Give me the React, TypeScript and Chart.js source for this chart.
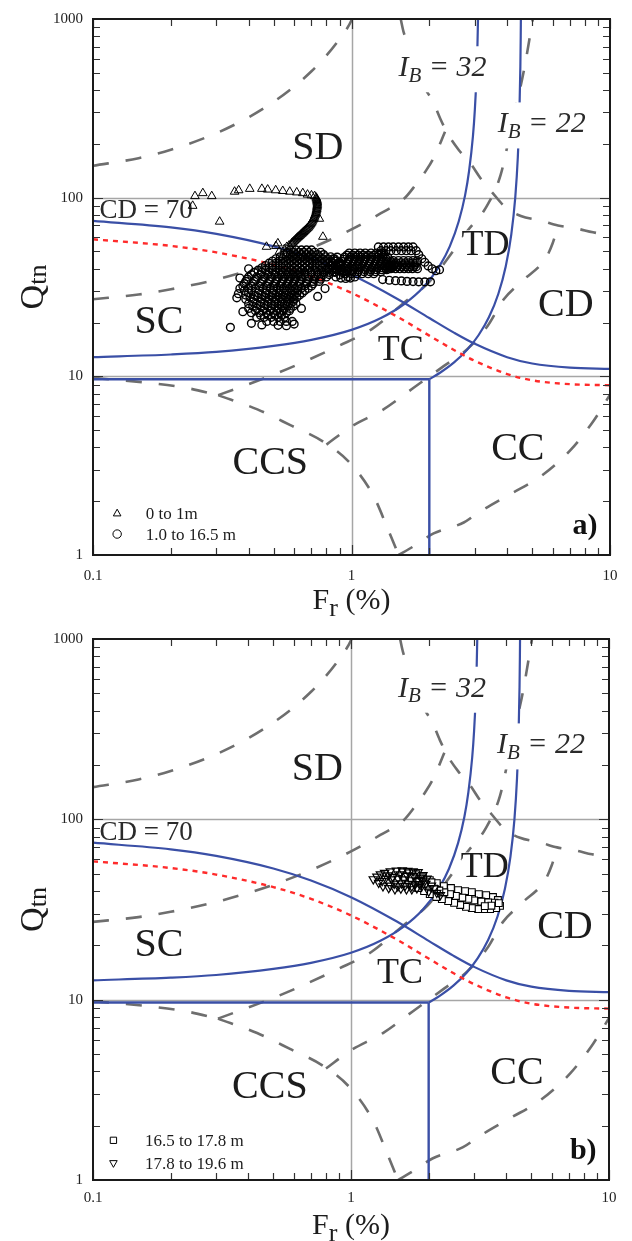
import React, { useEffect, useRef } from "react";
import { Chart, registerables } from "chart.js";

Chart.register(...registerables);

const FONT = "'Liberation Serif', 'Times New Roman', Times, serif";

// ---------------- axis ticks ----------------
const gridFr = [1];
const gridQ = [10, 100];
const frDecades = [0.1, 1];
const qDecades = [1, 10, 100];

// ---------------- boundary curves (Fr %, Qtn) ----------------
const cd70Fr = [0.1, 0.2, 0.3, 0.5, 0.7, 1.0, 1.5, 2.0, 2.5, 3.0, 4.0, 5.0, 7.0, 10];
const cd70Q = [74.2, 68.2, 62.7, 53.4, 45.8, 37.0, 27.2, 21.2, 17.5, 15.2, 12.8, 11.8, 11.18, 11.02];
const redFr = [0.1, 0.2, 0.3, 0.5, 0.7, 1.0, 1.5, 2.0, 2.5, 3.0, 4.0, 5.0, 7.0, 10];
const redQ = [58.5, 53.7, 49.4, 42.1, 36.2, 29.3, 21.6, 16.9, 14.0, 12.2, 10.3, 9.5, 9.04, 8.92];
const ib32Fr = [0.1, 0.2, 0.3, 0.5, 0.7, 1.0, 1.3, 1.6, 1.9, 2.2, 2.4, 2.6, 2.75, 2.85, 2.95, 3.0, 3.04, 3.07, 3.086];
const ib32Q = [12.8, 13.25, 13.7, 14.8, 16.0, 18.2, 21.2, 25.4, 31.6, 41.9, 53.4, 73.8, 103, 141, 221, 310, 456, 705, 1000];
const ib22Fr = [2.0, 2.2, 2.5, 2.8, 3.1, 3.4, 3.7, 3.95, 4.15, 4.3, 4.4, 4.46, 4.5, 4.515, 4.521];
const ib22Q = [9.64, 10.47, 12.0, 14.06, 16.98, 21.4, 29.0, 41.2, 62.1, 100, 168.8, 287, 540, 806, 1000];
const floorFr = [0.1, 2.0];
const floorQ = [9.64, 9.64];
const wallFr = [2.0, 2.0];
const wallQ = [9.64, 1];

// grey dashed zone boundaries
const zoneAFr = [0.1, 0.15, 0.2, 0.3, 0.4, 0.5, 0.6, 0.7, 0.8, 0.9, 1.0, 1.004];
const zoneAQ = [150.9, 166.4, 185.3, 229.6, 281.8, 344, 418.4, 509.7, 624.8, 774.8, 983.6, 1000];
const zoneBFr = [0.1, 0.15, 0.2, 0.3, 0.4, 0.5, 0.7, 1.0, 1.3, 1.6, 1.77, 1.95, 2.1, 2.3];
const zoneBQ = [27.0, 28.7, 30.7, 34.8, 39.1, 43.4, 52.3, 66.4, 81.9, 98.9, 118, 143, 172, 234];
const zoneCFr = [1.55, 1.59, 1.72, 1.94, 2.06, 2.21, 2.36, 2.6, 2.89, 3.16, 3.52, 3.95, 4.52, 5.4, 6.29, 7.38, 8.59, 10];
const zoneCQ = [1000, 848, 641, 402, 349, 275, 227, 185, 155, 128, 106, 88, 79, 74.5, 69.9, 67.3, 64, 61.5];
const zoneDFr = [0.1, 0.163, 0.231, 0.305];
const zoneDQ = [9.8, 9.2, 8.6, 7.85];
const zoneEFr = [0.305, 0.4325, 0.58, 0.779, 0.991, 1.217, 1.379, 1.521];
const zoneEQ = [7.85, 6.53, 5.33, 4.3, 3.25, 2.14, 1.41, 1.0];
const zoneFFr = [1.521, 1.723, 2.078, 2.718, 3.106, 4.133, 5.403, 7.06, 8.67, 10];
const zoneFQ = [1.0, 1.11, 1.32, 1.52, 1.73, 2.2, 2.76, 3.89, 5.68, 7.9];
const zoneGFr = [0.305, 0.485, 0.663, 0.882, 1.206, 1.6, 1.988, 2.38, 2.82, 3.31, 3.78, 4.2, 4.64, 5.03];
const zoneGQ = [7.85, 10.05, 12.15, 14.7, 18.5, 25.9, 33.5, 46.5, 65.6, 88, 135, 270, 511, 1000];
const zoneHFr = [0.8, 0.991, 1.33, 1.739, 2.273, 2.817, 3.366, 3.883, 4.6, 5.65, 6.0, 6.3];
const zoneHQ = [4.15, 5.2, 6.53, 8.63, 11.4, 14.3, 19.2, 27, 34.4, 46, 55.6, 70];

// ---------------- measured data (Fr %, Qtn) ----------------
const depth0to1: number[][] = [
  [0.243, 90], [0.248, 102], [0.266, 106], [0.288, 102], [0.309, 73.4], [0.353, 108], [0.366, 110],
  [0.404, 112], [0.45, 112], [0.474, 111], [0.509, 110], [0.542, 109], [0.577, 108], [0.614, 107],
  [0.648, 106], [0.676, 104], [0.7, 103], [0.72, 102], [0.73, 100], [0.735, 97], [0.737, 94],
  [0.737, 91], [0.735, 88], [0.732, 85], [0.728, 82], [0.722, 79.5], [0.716, 77], [0.708, 74.6],
  [0.7, 72.3], [0.69, 70], [0.68, 68], [0.669, 66.5], [0.658, 65], [0.648, 63.6], [0.638, 62.3],
  [0.628, 61], [0.618, 59.7], [0.608, 58.3], [0.597, 56.8], [0.586, 55.4], [0.574, 54], [0.562, 53],
  [0.733, 98.5], [0.736, 95.5], [0.737, 92.5], [0.736, 89.5], [0.734, 86.5], [0.73, 83.5], [0.725, 80.7],
  [0.719, 78.2], [0.712, 75.8], [0.704, 73.4], [0.695, 71.1], [0.685, 69], [0.674, 67.2], [0.663, 65.7],
  [0.653, 64.3], [0.643, 62.9], [0.633, 61.6], [0.623, 60.3], [0.613, 59], [0.602, 57.5], [0.591, 56.1],
  [0.519, 55.5], [0.51, 53.6], [0.469, 53.1], [0.751, 76.2], [0.775, 60.4], [0.526, 49.9],
  [0.55, 51.5], [0.6, 50.5], [0.64, 49], [0.68, 47],
];

const depth1to165: number[][] = [
  // main cluster
  [0.58, 51], [0.61, 51], [0.64, 51], [0.67, 51], [0.7, 51],
  [0.565, 49.5], [0.595, 49.5], [0.625, 49.5], [0.655, 49.5], [0.685, 49.5], [0.72, 49.5], [0.76, 49.5],
  [0.55, 48], [0.58, 48], [0.61, 48], [0.64, 48], [0.67, 48], [0.7, 48], [0.74, 48], [0.78, 48],
  [0.53, 46.7], [0.56, 46.7], [0.59, 46.7], [0.62, 46.7], [0.65, 46.7], [0.68, 46.7], [0.71, 46.7], [0.75, 46.7], [0.79, 46.7], [0.83, 46.7],
  [0.51, 45.5], [0.54, 45.5], [0.57, 45.5], [0.6, 45.5], [0.63, 45.5], [0.66, 45.5], [0.69, 45.5], [0.73, 45.5], [0.77, 45.5], [0.81, 45.5], [0.85, 45.5],
  [0.495, 44.2], [0.525, 44.2], [0.555, 44.2], [0.585, 44.2], [0.615, 44.2], [0.645, 44.2], [0.675, 44.2], [0.71, 44.2], [0.75, 44.2], [0.79, 44.2], [0.83, 44.2], [0.87, 44.2],
  [0.48, 43], [0.51, 43], [0.54, 43], [0.57, 43], [0.6, 43], [0.63, 43], [0.66, 43], [0.69, 43], [0.73, 43], [0.77, 43], [0.81, 43], [0.85, 43], [0.89, 43],
  [0.465, 41.7], [0.495, 41.7], [0.525, 41.7], [0.555, 41.7], [0.585, 41.7], [0.615, 41.7], [0.645, 41.7], [0.675, 41.7], [0.71, 41.7], [0.75, 41.7], [0.79, 41.7], [0.83, 41.7], [0.87, 41.7], [0.91, 41.7],
  [0.45, 40.5], [0.48, 40.5], [0.51, 40.5], [0.54, 40.5], [0.57, 40.5], [0.6, 40.5], [0.63, 40.5], [0.66, 40.5], [0.69, 40.5], [0.73, 40.5], [0.77, 40.5], [0.81, 40.5], [0.85, 40.5], [0.89, 40.5],
  [0.435, 39.3], [0.465, 39.3], [0.495, 39.3], [0.525, 39.3], [0.555, 39.3], [0.585, 39.3], [0.615, 39.3], [0.645, 39.3], [0.68, 39.3], [0.72, 39.3], [0.76, 39.3], [0.8, 39.3], [0.84, 39.3], [0.88, 39.3],
  [0.42, 38.2], [0.45, 38.2], [0.48, 38.2], [0.51, 38.2], [0.54, 38.2], [0.57, 38.2], [0.6, 38.2], [0.63, 38.2], [0.66, 38.2], [0.7, 38.2], [0.74, 38.2], [0.78, 38.2], [0.82, 38.2], [0.86, 38.2],
  [0.41, 37.1], [0.445, 37.1], [0.475, 37.1], [0.505, 37.1], [0.535, 37.1], [0.565, 37.1], [0.595, 37.1], [0.625, 37.1], [0.66, 37.1], [0.7, 37.1], [0.74, 37.1], [0.78, 37.1], [0.82, 37.1],
  [0.4, 36], [0.43, 36], [0.46, 36], [0.49, 36], [0.52, 36], [0.55, 36], [0.58, 36], [0.61, 36], [0.64, 36], [0.68, 36], [0.72, 36], [0.76, 36], [0.8, 36],
  [0.395, 35], [0.425, 35], [0.455, 35], [0.485, 35], [0.515, 35], [0.545, 35], [0.575, 35], [0.605, 35], [0.64, 35], [0.68, 35], [0.72, 35], [0.76, 35],
  [0.39, 34], [0.42, 34], [0.45, 34], [0.48, 34], [0.51, 34], [0.54, 34], [0.57, 34], [0.6, 34], [0.63, 34], [0.67, 34], [0.71, 34], [0.75, 34],
  [0.385, 33], [0.415, 33], [0.445, 33], [0.475, 33], [0.505, 33], [0.535, 33], [0.565, 33], [0.595, 33], [0.63, 33], [0.67, 33], [0.71, 33],
  [0.38, 32], [0.41, 32], [0.44, 32], [0.47, 32], [0.5, 32], [0.53, 32], [0.56, 32], [0.59, 32], [0.62, 32], [0.66, 32], [0.7, 32],
  [0.4, 31.1], [0.425, 31.1], [0.455, 31.1], [0.485, 31.1], [0.515, 31.1], [0.545, 31.1], [0.575, 31.1], [0.605, 31.1], [0.64, 31.1], [0.68, 31.1],
  [0.385, 30.2], [0.41, 30.2], [0.44, 30.2], [0.47, 30.2], [0.5, 30.2], [0.53, 30.2], [0.56, 30.2], [0.59, 30.2], [0.62, 30.2], [0.66, 30.2],
  [0.4, 29.3], [0.435, 29.3], [0.465, 29.3], [0.495, 29.3], [0.525, 29.3], [0.555, 29.3], [0.585, 29.3], [0.615, 29.3], [0.645, 29.3],
  [0.39, 28.5], [0.42, 28.5], [0.45, 28.5], [0.48, 28.5], [0.51, 28.5], [0.54, 28.5], [0.57, 28.5], [0.6, 28.5], [0.63, 28.5],
  [0.405, 27.7], [0.435, 27.7], [0.465, 27.7], [0.495, 27.7], [0.525, 27.7], [0.555, 27.7], [0.585, 27.7], [0.615, 27.7],
  [0.39, 27], [0.42, 27], [0.45, 27], [0.48, 27], [0.51, 27], [0.54, 27], [0.57, 27], [0.6, 27],
  [0.415, 26.2], [0.445, 26.2], [0.475, 26.2], [0.505, 26.2], [0.535, 26.2], [0.565, 26.2], [0.595, 26.2],
  [0.4, 25.5], [0.43, 25.5], [0.46, 25.5], [0.49, 25.5], [0.52, 25.5], [0.55, 25.5], [0.58, 25.5], [0.61, 25.5],
  [0.415, 24.7], [0.445, 24.7], [0.475, 24.7], [0.505, 24.7], [0.535, 24.7], [0.565, 24.7], [0.595, 24.7],
  [0.4, 24], [0.43, 24], [0.46, 24], [0.49, 24], [0.52, 24], [0.55, 24], [0.58, 24],
  [0.425, 23.3], [0.455, 23.3], [0.485, 23.3], [0.515, 23.3], [0.545, 23.3], [0.575, 23.3],
  [0.41, 22.7], [0.44, 22.7], [0.47, 22.7], [0.5, 22.7], [0.53, 22.7], [0.56, 22.7],
  [0.445, 22], [0.475, 22], [0.505, 22], [0.535, 22],
  [0.43, 21.4], [0.46, 21.4], [0.49, 21.4], [0.52, 21.4], [0.55, 21.4],
  [0.47, 20.3], [0.5, 20.3], [0.53, 20.3], [0.56, 20.3], [0.59, 20.3],
  [0.37, 31], [0.36, 27.5], [0.38, 23], [0.34, 18.8], [0.41, 19.8], [0.45, 19.4], [0.52, 19.3],
  [0.56, 19.2], [0.6, 19.6], [0.64, 24], [0.74, 28], [0.79, 31], [0.37, 35.5], [0.4, 40], [0.365, 29],
  // bridge
  [0.82, 40], [0.86, 38.5], [0.9, 37], [0.84, 43], [0.88, 41], [0.92, 39.5], [0.86, 45.5], [0.9, 43.5],
  [0.84, 41.8], [0.88, 39.8], [0.92, 38.3], [0.86, 44.2], [0.9, 42.3], [0.94, 40.5], [0.88, 46.5], [0.96, 38.8],
  [0.94, 37.5], [0.97, 36], [0.87, 36], [0.91, 35.5], [0.95, 35.3], [0.99, 35.5], [1.03, 36],
  // second cluster
  [0.98, 49], [1.03, 49], [1.08, 49], [1.13, 49], [1.19, 49], [1.25, 49], [1.31, 49],
  [0.96, 47.7], [1.01, 47.7], [1.06, 47.7], [1.11, 47.7], [1.16, 47.7], [1.22, 47.7], [1.28, 47.7], [1.34, 47.7],
  [0.94, 46.5], [0.99, 46.5], [1.04, 46.5], [1.09, 46.5], [1.14, 46.5], [1.2, 46.5], [1.26, 46.5], [1.32, 46.5], [1.38, 46.5],
  [0.93, 45.2], [0.98, 45.2], [1.03, 45.2], [1.08, 45.2], [1.13, 45.2], [1.19, 45.2], [1.25, 45.2], [1.31, 45.2], [1.37, 45.2],
  [0.92, 44], [0.97, 44], [1.02, 44], [1.07, 44], [1.12, 44], [1.18, 44], [1.24, 44], [1.3, 44], [1.36, 44], [1.42, 44],
  [0.91, 42.7], [0.96, 42.7], [1.01, 42.7], [1.06, 42.7], [1.11, 42.7], [1.17, 42.7], [1.23, 42.7], [1.29, 42.7], [1.35, 42.7], [1.41, 42.7], [1.47, 42.7],
  [0.9, 41.5], [0.95, 41.5], [1.0, 41.5], [1.05, 41.5], [1.1, 41.5], [1.16, 41.5], [1.22, 41.5], [1.28, 41.5], [1.34, 41.5], [1.4, 41.5], [1.46, 41.5],
  [0.93, 40.5], [0.98, 40.5], [1.03, 40.5], [1.08, 40.5], [1.14, 40.5], [1.2, 40.5], [1.26, 40.5], [1.32, 40.5], [1.38, 40.5], [1.44, 40.5],
  [0.92, 39.5], [0.97, 39.5], [1.02, 39.5], [1.07, 39.5], [1.13, 39.5], [1.19, 39.5], [1.25, 39.5], [1.31, 39.5], [1.37, 39.5],
  [0.96, 38.5], [1.01, 38.5], [1.06, 38.5], [1.12, 38.5], [1.18, 38.5], [1.24, 38.5], [1.3, 38.5],
  [0.95, 37.5], [1.0, 37.5], [1.05, 37.5], [1.1, 37.5], [1.16, 37.5], [1.22, 37.5],
  // loop
  [1.27, 53], [1.33, 53], [1.39, 53], [1.45, 53], [1.52, 53], [1.59, 53], [1.66, 53], [1.73, 53],
  [1.3, 50.5], [1.36, 50.5], [1.42, 50.5], [1.49, 50.5], [1.56, 50.5], [1.63, 50.5], [1.7, 50.5], [1.78, 50.5],
  [1.45, 44.5], [1.52, 44.5], [1.59, 44.5], [1.66, 44.5], [1.73, 44.5], [1.8, 44.5],
  [1.43, 43.2], [1.49, 43.2], [1.55, 43.2], [1.61, 43.2], [1.67, 43.2], [1.73, 43.2], [1.79, 43.2],
  [1.4, 42], [1.46, 42], [1.52, 42], [1.58, 42], [1.64, 42], [1.7, 42], [1.76, 42],
  [1.38, 41], [1.44, 41], [1.5, 41], [1.56, 41], [1.62, 41], [1.68, 41], [1.74, 41], [1.78, 41],
  [1.36, 40], [1.42, 40], [1.48, 40], [1.54, 40], [1.6, 40], [1.66, 40], [1.72, 40], [1.8, 40],
  [1.82, 48], [1.87, 45.5], [1.92, 43.5], [1.98, 41.5], [2.05, 40], [2.12, 39], [2.19, 39.5],
  // lower row
  [1.32, 34.8], [1.4, 34.5], [1.48, 34.3], [1.56, 34.2], [1.64, 34], [1.73, 33.9], [1.82, 33.8], [1.92, 33.8], [2.02, 33.8],
];

const depth165to178: number[][] = [
  [1.58, 50.9], [1.68, 50.2], [1.79, 49.6], [1.9, 47.8], [2.02, 46.0], [2.15, 44.3], [2.29, 42.6],
  [2.44, 41.6], [2.6, 40.5], [2.77, 40.0], [2.94, 39.5], [3.13, 38.5], [3.34, 38.0], [3.55, 37.1], [3.71, 35.7],
  [3.78, 33.1], [3.65, 32.2], [3.46, 31.8], [3.28, 31.8], [3.11, 31.8], [2.94, 32.2], [2.79, 32.7],
  [2.65, 33.5], [2.51, 34.4], [2.38, 35.2], [2.25, 36.1], [2.14, 37.1], [2.02, 38.5], [1.92, 40.0], [1.82, 41.6],
  [3.6, 34.5], [3.4, 34.6], [3.2, 35.0], [3.0, 35.5], [2.85, 36.2], [2.7, 36.8], [2.55, 37.6], [2.42, 38.5],
  [2.3, 39.4], [2.2, 40.3], [2.1, 41.3], [2.0, 42.4], [1.95, 44], [2.05, 44.8],
  [1.62, 48], [1.72, 47.2], [1.84, 45.5], [3.74, 34.3], [3.5, 33.2], [3.3, 33.0],
];

const depth178to196: number[][] = [
  [1.22, 46.6], [1.26, 48.2], [1.3, 49.6], [1.35, 50.6], [1.42, 51.5], [1.5, 52.0], [1.58, 52.2],
  [1.66, 51.8], [1.74, 51.5], [1.82, 51.0], [1.9, 49.2], [1.97, 47.0],
  [1.28, 44.5], [1.33, 42.6], [1.4, 41.6], [1.48, 41.0], [1.56, 41.4], [1.64, 41.0], [1.72, 41.0],
  [1.8, 41.5], [1.88, 42.5], [1.95, 44.0],
  [1.36, 47.0], [1.44, 46.5], [1.52, 47.0], [1.6, 46.5], [1.7, 46.0], [1.8, 45.5], [1.47, 44.0],
  [1.57, 44.2], [1.67, 44.0], [1.77, 43.5], [1.4, 49.0], [1.55, 49.6], [1.75, 48.6], [1.86, 47.6],
  [1.32, 45.5], [1.42, 43.0], [1.52, 42.5], [1.62, 42.8], [1.72, 42.5], [1.84, 43.8], [1.45, 48.0],
  [1.65, 48.8], [1.9, 45.8],
  [2.05, 43.0], [2.1, 41.5], [2.0, 39.8], [2.15, 39.2], [2.22, 38.0],
];

// ---------------- colours ----------------
const BLUE = "#3a4fa6";
const RED = "#ff2b2b";
const GREY = "#6e6e6e";

const toXY = (F: number[], Q: number[]) => F.map((f, i) => ({ x: f, y: Q[i] }));

const lineDs = (F: number[], Q: number[], color: string, width: number, dash: number[], smooth: boolean) => ({
  data: toXY(F, Q),
  showLine: true,
  pointRadius: 0,
  pointHoverRadius: 0,
  pointHitRadius: 0,
  borderColor: color,
  borderWidth: width,
  borderDash: dash,
  borderCapStyle: "butt",
  fill: false,
  tension: 0,
  cubicInterpolationMode: smooth ? "monotone" : "default",
});

const pointDs = (pts: number[][], style: string, radius: number, rotation: number, bw: number, fillC: string) => ({
  data: pts.map((p) => ({ x: p[0], y: p[1] })),
  showLine: false,
  pointStyle: style,
  pointRadius: radius,
  pointHoverRadius: radius,
  pointRotation: rotation,
  pointBorderWidth: bw,
  pointBorderColor: "#000",
  pointBackgroundColor: fillC,
});

const boundaryDatasets = () => [
  lineDs(redFr, redQ, RED, 2.4, [5, 5], true),
  lineDs(cd70Fr, cd70Q, BLUE, 2.2, [], true),
  lineDs(ib32Fr, ib32Q, BLUE, 2.2, [], true),
  lineDs(ib22Fr, ib22Q, BLUE, 2.2, [], true),
  lineDs(floorFr, floorQ, BLUE, 2.4, [], false),
  lineDs(wallFr, wallQ, BLUE, 2.4, [], false),
  lineDs(zoneAFr, zoneAQ, GREY, 2.6, [16, 17], true),
  lineDs(zoneBFr, zoneBQ, GREY, 2.6, [16, 17], true),
  lineDs(zoneCFr, zoneCQ, GREY, 2.6, [16, 17], true),
  lineDs(zoneDFr, zoneDQ, GREY, 2.6, [16, 17], true),
  lineDs(zoneEFr, zoneEQ, GREY, 2.6, [16, 17], true),
  lineDs(zoneFFr, zoneFQ, GREY, 2.6, [16, 17], true),
  lineDs(zoneGFr, zoneGQ, GREY, 2.6, [16, 17], true),
  lineDs(zoneHFr, zoneHQ, GREY, 2.6, [16, 17], true),
];
const COLOURED_LAST_INDEX = 7;

// ---------------- labels ----------------
const regionLabels = [
  { t: "SD", f: 0.74, q: 188, size: 40, box: false },
  { t: "SC", f: 0.18, q: 20, size: 40, box: false },
  { t: "CD", f: 6.75, q: 25, size: 40, box: false },
  { t: "TD", f: 3.3, q: 54, size: 36, box: true },
  { t: "TC", f: 1.55, q: 14, size: 36, box: false },
  { t: "CCS", f: 0.485, q: 3.25, size: 40, box: false },
  { t: "CC", f: 4.4, q: 3.9, size: 40, box: false },
];

type Run = { t: string; font: string; dy: number };

function runsWidth(ctx: CanvasRenderingContext2D, runs: Run[]) {
  let w = 0;
  for (const r of runs) {
    ctx.font = r.font;
    w += ctx.measureText(r.t).width;
  }
  return w;
}

function drawRuns(ctx: CanvasRenderingContext2D, runs: Run[], x: number, y: number) {
  let cx = x;
  for (const r of runs) {
    ctx.font = r.font;
    ctx.fillText(r.t, cx, y + r.dy);
    cx += ctx.measureText(r.t).width;
  }
}

function drawMarker(ctx: CanvasRenderingContext2D, style: string, x: number, y: number, r: number) {
  ctx.beginPath();
  if (style === "circle") {
    ctx.arc(x, y, r, 0, Math.PI * 2);
  } else if (style === "triangle" || style === "invtriangle") {
    const s = style === "triangle" ? 1 : -1;
    ctx.moveTo(x, y - s * r);
    ctx.lineTo(x - r * 0.9, y + s * r * 0.6);
    ctx.lineTo(x + r * 0.9, y + s * r * 0.6);
    ctx.closePath();
  } else {
    ctx.rect(x - r * 0.75, y - r * 0.75, r * 1.5, r * 1.5);
  }
  ctx.fillStyle = "#fff";
  ctx.fill();
  ctx.strokeStyle = "#000";
  ctx.lineWidth = 1;
  ctx.stroke();
}

type Spec = {
  top: number;
  height: number;
  padTop: number;
  padRight: number;
  xAxisH: number;
  xTickPad: number;
  tag: string;
  series: { pts: number[][]; style: string; radius: number; rotation: number; bw: number; fill: string; label: string }[];
  legendF: number;
  legendTextF: number;
  legendQ: number[];
};

function makePlugin(spec: Spec) {
  return {
    id: "decor",
    beforeDatasetsDraw(chart: any) {
      const { ctx, chartArea: a, scales } = chart;
      const xs = scales.x;
      const ys = scales.y;
      ctx.save();
      ctx.strokeStyle = "#a6a6a6";
      ctx.lineWidth = 1.5;
      ctx.beginPath();
      for (const f of gridFr) {
        const px = Math.round(xs.getPixelForValue(f)) + 0.5;
        ctx.moveTo(px, a.top);
        ctx.lineTo(px, a.bottom);
      }
      for (const q of gridQ) {
        const py = Math.round(ys.getPixelForValue(q)) + 0.5;
        ctx.moveTo(a.left, py);
        ctx.lineTo(a.right, py);
      }
      ctx.stroke();
      ctx.restore();
    },
    beforeDatasetDraw(chart: any, args: any) {
      const { ctx, scales } = chart;
      const xs = scales.x;
      const ys = scales.y;
      if (args.index === COLOURED_LAST_INDEX) {
        ctx.save();
        ctx.textBaseline = "middle";
        ctx.textAlign = "center";
        for (const l of regionLabels) {
          const px = xs.getPixelForValue(l.f);
          const py = ys.getPixelForValue(l.q);
          ctx.font = `${l.size}px ${FONT}`;
          const w = ctx.measureText(l.t).width;
          if (l.box) {
            ctx.fillStyle = "#fff";
            ctx.fillRect(px - w / 2 + 1, py - l.size * 0.42, w - 4, l.size * 0.8);
          }
          ctx.fillStyle = "#1c1c1c";
          ctx.fillText(l.t, px, py);
        }
        ctx.restore();
      }
      if (args.index === 1) {
        ctx.save();
        ctx.textBaseline = "middle";
        ctx.textAlign = "left";
        ctx.fillStyle = "#2a2a2a";
        ctx.font = `27px ${FONT}`;
        ctx.fillText("CD = 70", xs.getPixelForValue(0.106), ys.getPixelForValue(84));
        const ibLabels = [
          { v: "32", f: 1.52, q: 530 },
          { v: "22", f: 3.68, q: 257 },
        ];
        for (const l of ibLabels) {
          const px = xs.getPixelForValue(l.f);
          const py = ys.getPixelForValue(l.q);
          const runs: Run[] = [
            { t: "I", font: `italic 30px ${FONT}`, dy: 0 },
            { t: "B", font: `italic 21px ${FONT}`, dy: 8 },
            { t: " = " + l.v, font: `italic 30px ${FONT}`, dy: 0 },
          ];
          const w = runsWidth(ctx, runs);
          ctx.fillStyle = "#fff";
          ctx.fillRect(px - 3, py - 22, w + 6, 46);
          ctx.fillStyle = "#2a2a2a";
          drawRuns(ctx, runs, px, py);
        }
        ctx.restore();
      }
    },
    afterDatasetsDraw(chart: any) {
      const { ctx, chartArea: a, scales } = chart;
      const xs = scales.x;
      const ys = scales.y;
      ctx.save();
      ctx.strokeStyle = "#333";
      ctx.lineWidth = 1.2;
      ctx.beginPath();
      for (const d of frDecades) {
        for (let m = 1; m <= 10; m++) {
          const v = d * m;
          const px = Math.round(xs.getPixelForValue(v)) + 0.5;
          const L = m === 1 || m === 10 ? 10 : 7;
          ctx.moveTo(px, a.bottom);
          ctx.lineTo(px, a.bottom - L);
          ctx.moveTo(px, a.top);
          ctx.lineTo(px, a.top + L);
        }
      }
      for (const d of qDecades) {
        for (let m = 1; m <= 10; m++) {
          const v = d * m;
          const py = Math.round(ys.getPixelForValue(v)) + 0.5;
          const L = m === 1 || m === 10 ? 10 : 7;
          ctx.moveTo(a.left, py);
          ctx.lineTo(a.left + L, py);
          ctx.moveTo(a.right, py);
          ctx.lineTo(a.right - L, py);
        }
      }
      ctx.stroke();
      ctx.strokeStyle = "#1a1a1a";
      ctx.lineWidth = 2;
      ctx.strokeRect(a.left, a.top, a.right - a.left, a.bottom - a.top);

      spec.series.forEach((s, i) => {
        const mx = xs.getPixelForValue(spec.legendF);
        const my = ys.getPixelForValue(spec.legendQ[i]);
        drawMarker(ctx, s.style === "triangle" && s.rotation === 180 ? "invtriangle" : s.style, mx, my, 4.2);
        ctx.fillStyle = "#1c1c1c";
        ctx.font = `17px ${FONT}`;
        ctx.textAlign = "left";
        ctx.textBaseline = "middle";
        ctx.fillText(s.label, xs.getPixelForValue(spec.legendTextF), my + 1);
      });

      ctx.font = `bold 30px ${FONT}`;
      ctx.textAlign = "right";
      ctx.textBaseline = "middle";
      ctx.fillStyle = "#111";
      ctx.fillText(spec.tag, xs.getPixelForValue(8.95), ys.getPixelForValue(1.45));
      ctx.restore();
    },
    afterDraw(chart: any) {
      const { ctx, chartArea: a } = chart;
      ctx.save();
      ctx.fillStyle = "#1c1c1c";
      ctx.textBaseline = "alphabetic";
      const xr: Run[] = [
        { t: "F", font: `30px ${FONT}`, dy: 0 },
        { t: "r", font: `26px ${FONT}`, dy: 7 },
        { t: " (%)", font: `30px ${FONT}`, dy: 0 },
      ];
      const xw = runsWidth(ctx, xr);
      drawRuns(ctx, xr, (a.left + a.right) / 2 - xw / 2, a.bottom + 54);
      const yr: Run[] = [
        { t: "Q", font: `34px ${FONT}`, dy: 0 },
        { t: "tn", font: `26px ${FONT}`, dy: 3 },
      ];
      const yw = runsWidth(ctx, yr);
      ctx.translate(31, (a.top + a.bottom) / 2);
      ctx.rotate(-Math.PI / 2);
      drawRuns(ctx, yr, -yw / 2, 12);
      ctx.restore();
    },
  };
}

const isDecade = (v: number) => {
  const l = Math.log10(v);
  return Math.abs(l - Math.round(l)) < 1e-6;
};
const decadeLabel = (v: number) => (isDecade(v) ? String(Math.pow(10, Math.round(Math.log10(v)))) : "");

function Panel({ spec }: { spec: Spec }) {
  const ref = useRef<HTMLCanvasElement | null>(null);
  useEffect(() => {
    const canvas = ref.current;
    if (!canvas) return;
    const datasets: any[] = [
      ...spec.series
        .slice()
        .reverse()
        .map((s) => pointDs(s.pts, s.style, s.radius, s.rotation, s.bw, s.fill)),
      ...boundaryDatasets(),
    ];
    const chart = new Chart(canvas, {
      type: "scatter",
      data: { datasets },
      options: {
        animation: false,
        responsive: false,
        devicePixelRatio: 1,
        events: [],
        layout: { padding: { left: 0, top: spec.padTop, right: spec.padRight, bottom: 0 } },
        plugins: { legend: { display: false }, tooltip: { enabled: false } },
        scales: {
          x: {
            type: "logarithmic",
            min: 0.1,
            max: 10,
            position: "bottom",
            grid: { display: false, drawTicks: false },
            border: { display: false },
            ticks: {
              autoSkip: false,
              maxRotation: 0,
              padding: spec.xTickPad,
              color: "#222",
              font: { family: FONT, size: 15 },
              callback: (v: any) => decadeLabel(Number(v)),
            },
            afterFit: (s: any) => {
              s.height = spec.xAxisH;
            },
          },
          y: {
            type: "logarithmic",
            min: 1,
            max: 1000,
            position: "left",
            grid: { display: false, drawTicks: false },
            border: { display: false },
            ticks: {
              autoSkip: false,
              padding: 10,
              color: "#222",
              font: { family: FONT, size: 15 },
              callback: (v: any) => decadeLabel(Number(v)),
            },
            afterFit: (s: any) => {
              s.width = 93;
            },
          },
        },
      } as any,
      plugins: [makePlugin(spec) as any],
    });
    return () => chart.destroy();
  }, [spec]);
  return (
    <canvas
      ref={ref}
      width={632}
      height={spec.height}
      style={{ position: "absolute", left: 0, top: spec.top, width: 632, height: spec.height }}
    />
  );
}

const specA: Spec = {
  top: 0,
  height: 620,
  padTop: 13,
  padRight: 22,
  xAxisH: 65,
  xTickPad: 12,
  tag: "a)",
  series: [
    { pts: depth0to1, style: "triangle", radius: 5, rotation: 0, bw: 1, fill: "rgba(255,255,255,0)", label: "0 to 1m" },
    { pts: depth1to165, style: "circle", radius: 3.9, rotation: 0, bw: 1.4, fill: "rgba(255,255,255,0)", label: "1.0 to 16.5 m" },
  ],
  legendF: 0.124,
  legendTextF: 0.16,
  legendQ: [1.71, 1.31],
};

const specB: Spec = {
  top: 620,
  height: 621,
  padTop: 15,
  padRight: 23,
  xAxisH: 61,
  xTickPad: 9,
  tag: "b)",
  series: [
    { pts: depth165to178, style: "rect", radius: 4.8, rotation: 0, bw: 1.1, fill: "#fff", label: "16.5 to 17.8 m" },
    { pts: depth178to196, style: "triangle", radius: 4.8, rotation: 180, bw: 1.2, fill: "rgba(255,255,255,0)", label: "17.8 to 19.6 m" },
  ],
  legendF: 0.12,
  legendTextF: 0.159,
  legendQ: [1.66, 1.24],
};

export default function App() {
  return (
    <div style={{ position: "absolute", left: 0, top: 0, width: 632, height: 1241, background: "#fff", overflow: "hidden" }}>
      <Panel spec={specA} />
      <Panel spec={specB} />
    </div>
  );
}
